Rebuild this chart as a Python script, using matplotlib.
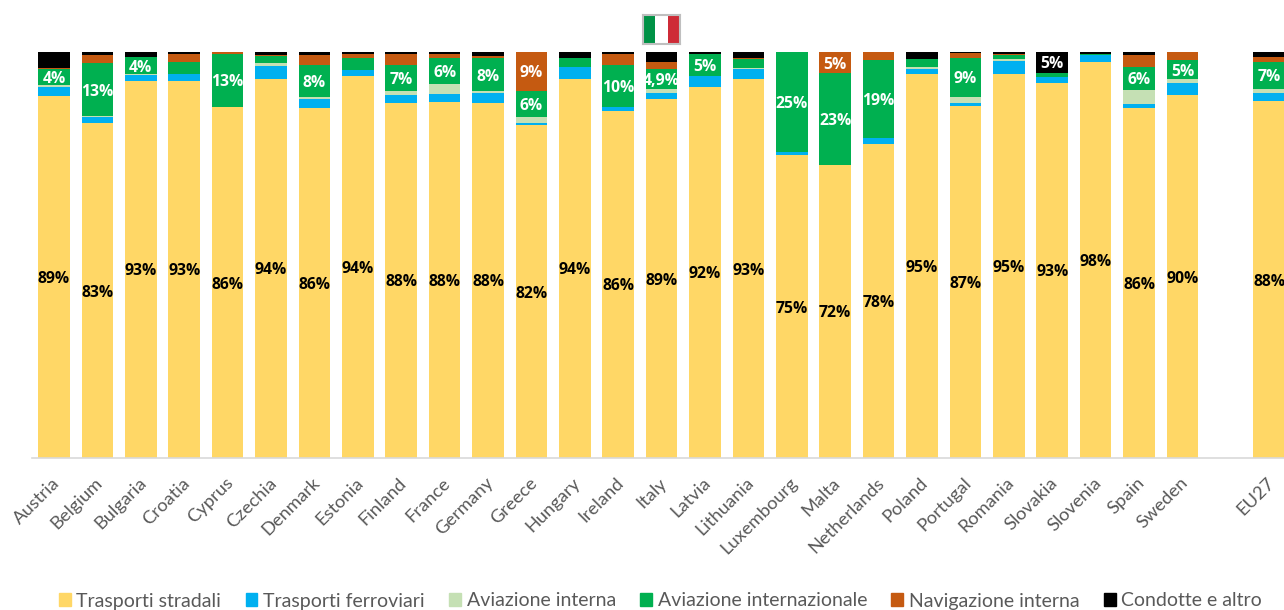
import matplotlib
matplotlib.use('Agg')
import matplotlib.pyplot as plt
from matplotlib.patches import Patch
from matplotlib.transforms import ScaledTranslation

countries = ['Austria', 'Belgium', 'Bulgaria', 'Croatia', 'Cyprus', 'Czechia', 'Denmark',
             'Estonia', 'Finland', 'France', 'Germany', 'Greece', 'Hungary', 'Ireland',
             'Italy', 'Latvia', 'Lithuania', 'Luxembourg', 'Malta', 'Netherlands', 'Poland',
             'Portugal', 'Romania', 'Slovakia', 'Slovenia', 'Spain', 'Sweden', 'EU27']
# EU27 sits one empty slot away from the member states
positions = list(range(27)) + [28]

road = [89.2, 82.5, 92.9, 92.9, 86.4, 93.4, 86.2, 94.2, 87.5, 87.8, 87.5, 81.9, 93.4, 85.5,
        88.4, 91.4, 93.3, 74.6, 72.2, 77.3, 94.7, 86.7, 94.7, 92.4, 97.5, 86.2, 89.4, 87.9]
rail = [2.2, 1.6, 1.5, 1.6, 0.0, 3.2, 2.2, 1.4, 1.9, 1.8, 2.4, 0.5, 2.8, 0.9,
        1.4, 2.7, 2.5, 0.7, 0.0, 1.4, 1.2, 0.7, 3.1, 1.4, 1.7, 1.1, 2.95, 1.9]
dom_air = [0.4, 0.1, 0.2, 0.2, 0.0, 0.7, 0.4, 0.0, 0.9, 2.5, 0.4, 1.6, 0.0, 0.0,
           1.1, 0.0, 0.2, 0.0, 0.0, 0.0, 0.3, 1.6, 0.4, 0.0, 0.0, 3.4, 0.9, 1.1]
int_air = [3.9, 13.1, 4.1, 2.8, 13.2, 1.8, 7.9, 3.0, 6.6, 6.5, 8.3, 6.5, 2.3, 10.3,
           4.8, 5.4, 2.3, 24.7, 22.6, 19.4, 2.0, 9.5, 1.0, 1.1, 0.3, 5.7, 4.8, 6.65]
navigation = [0.3, 2.05, 0.1, 2.0, 0.4, 0.1, 2.6, 0.8, 2.6, 1.0, 0.3, 9.4, 0.0, 2.7,
              1.8, 0.1, 0.2, 0.0, 5.2, 1.9, 0.0, 1.2, 0.25, 0.0, 0.0, 2.9, 1.9, 1.3]
pipeline = [4.0, 0.65, 1.2, 0.4, 0.0, 0.8, 0.65, 0.65, 0.4, 0.4, 1.1, 0.1, 1.5, 0.6,
            2.5, 0.4, 1.5, 0.0, 0.0, 0.0, 1.7, 0.2, 0.55, 5.1, 0.4, 0.65, 0.0, 1.05]

road_labels = ['89%', '83%', '93%', '93%', '86%', '94%', '86%', '94%', '88%', '88%', '88%',
               '82%', '94%', '86%', '89%', '92%', '93%', '75%', '72%', '78%', '95%', '87%',
               '95%', '93%', '98%', '86%', '90%', '88%']
int_air_labels = ['4%', '13%', '4%', '', '13%', '', '8%', '', '7%', '6%', '8%', '6%', '', '10%',
                  '4,9%', '5%', '', '25%', '23%', '19%', '', '9%', '', '', '', '6%', '5%', '7%']
navigation_labels = {'Greece': '9%', 'Malta': '5%'}
pipeline_labels = {'Slovakia': '5%'}

series_names = ['Trasporti stradali', 'Trasporti ferroviari', 'Aviazione interna',
                'Aviazione internazionale', 'Navigazione interna', 'Condotte e altro']
series_values = [road, rail, dom_air, int_air, navigation, pipeline]
colors = ['#FFD766', '#00B0F0', '#C5E0B4', '#00B050', '#C55A11', '#000000']

W, H = 1284, 610
fig = plt.figure(figsize=(W / 100, H / 100), dpi=100)
ax = fig.add_axes([32 / W, 1 - 458 / H, (W - 32) / W, 406 / H])

bottoms = [0.0] * len(countries)
segment_mid = []
for values, color in zip(series_values, colors):
    ax.bar(positions, values, width=0.73, bottom=bottoms, color=color, linewidth=0)
    segment_mid.append([b + v / 2 for b, v in zip(bottoms, values)])
    bottoms = [b + v for b, v in zip(bottoms, values)]

label_font = dict(ha='center', va='center_baseline', fontsize=11.3, fontweight='bold',
                  family='Open Sans')
for i, x in enumerate(positions):
    ax.text(x, segment_mid[0][i], road_labels[i], color='black', **label_font)
    if int_air_labels[i]:
        ax.text(x, segment_mid[3][i], int_air_labels[i], color='white', **label_font)
    if countries[i] in navigation_labels:
        ax.text(x, segment_mid[4][i], navigation_labels[countries[i]], color='white', **label_font)
    if countries[i] in pipeline_labels:
        ax.text(x, segment_mid[5][i], pipeline_labels[countries[i]], color='white', **label_font)

ax.set_xlim(-0.507, 28.34)
ax.set_ylim(0, 100)
ax.set_yticks([])
ax.set_xticks(positions)
ax.set_xticklabels(countries, rotation=45, ha='right', rotation_mode='anchor',
                   fontsize=13.2, color='#595959', family='Lato')
ax.tick_params(axis='x', length=0, pad=12)
# labels end a little left of the bar centre
shift = ScaledTranslation(-2 / 72, 0, fig.dpi_scale_trans)
for lab in ax.get_xticklabels():
    lab.set_transform(lab.get_transform() + shift)
for side in ['top', 'left', 'right']:
    ax.spines[side].set_visible(False)
ax.spines['bottom'].set_color('#D9D9D9')
ax.spines['bottom'].set_linewidth(1.2)

# legend along the bottom edge
handles = [Patch(color=c, label=n) for c, n in zip(colors, series_names)]
fig.legend(handles=handles, loc='center left', bbox_to_anchor=(59 / W, 1 - 601 / H), ncol=6,
           frameon=False, prop={'family': 'Lato', 'size': 14}, labelcolor='#595959',
           handlelength=0.6, handleheight=0.6, handletextpad=0.3, columnspacing=1.25,
           borderpad=0, borderaxespad=0)

# small italian flag above the bars
flag = fig.add_axes([643 / W, 1 - 44 / H, 37 / W, 29 / H])
flag.axvspan(0, 1, color='#009246', lw=0)
flag.axvspan(1, 2, color='white', lw=0)
flag.axvspan(2, 3, color='#CE2B37', lw=0)
flag.set_xlim(0, 3)
flag.set_xticks([])
flag.set_yticks([])
for spine in flag.spines.values():
    spine.set_color('#BFBFBF')
    spine.set_linewidth(1.5)

fig.savefig('out.png', dpi=100)
